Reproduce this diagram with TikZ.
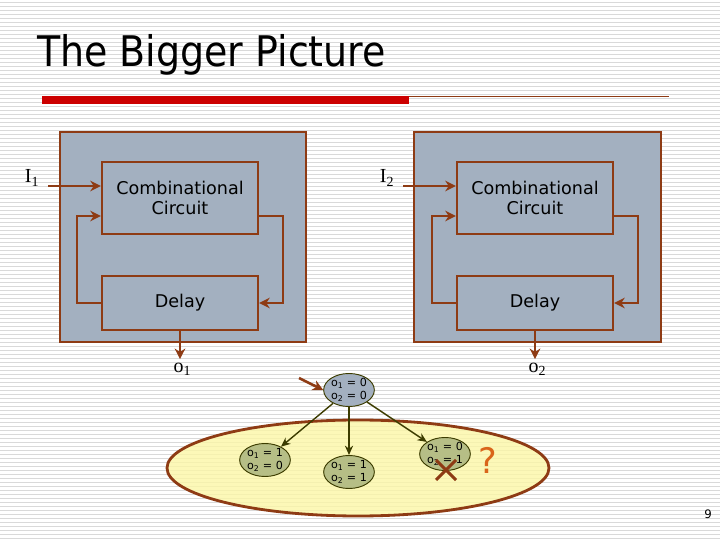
\documentclass[tikz,border=0pt]{standalone}
\usepackage{fontspec}
\setmainfont{DejaVu Sans}
\newfontfamily\titlefont{DejaVu Sans Condensed}
\newfontfamily\seriffont{Liberation Serif}
\usetikzlibrary{shapes.geometric,arrows.meta}

\definecolor{boxfill}{HTML}{A3B0C0}
\definecolor{wirebrown}{HTML}{8E3B14}
\definecolor{titlered}{HTML}{CC0000}
\definecolor{setyellow}{HTML}{FBF6A6}
\definecolor{stateolive}{HTML}{B6BE86}
\definecolor{edgeolive}{HTML}{3C3C00}
\definecolor{qorange}{HTML}{D9651A}

\tikzset{
  wire/.style={draw=wirebrown, line width=2pt, -{Stealth[length=9pt,width=9pt]}},
  block/.style={draw=wirebrown, line width=2pt, fill=boxfill, inner sep=0pt},
  unit/.style={block, minimum width=156*\px, align=center, font=\fontsize{15}{17}\selectfont},
  state/.style={ellipse, draw=edgeolive, line width=0.8pt, fill=stateolive, inner sep=0pt,
    minimum width=50*\px, minimum height=33*\px, align=center, font=\fontsize{9.5}{10.5}\selectfont},
  edge/.style={draw=edgeolive, line width=1.2pt, -{Stealth[length=8pt,width=7pt]}},
  iolabel/.style={font=\seriffont\fontsize{17}{19}\selectfont},
}

\begin{document}
\begin{tikzpicture}[x=0.03cm, y=-0.03cm]
% Parameters
\def\px{0.03cm}
\def\fb{18*\px}

\useasboundingbox (0,0) rectangle (720,540);

% Background stripes
\foreach \y in {2,6,...,538}
  \draw[gray!30, line width=0.8pt] (0,\y) -- (720,\y);

% Title
\node[anchor=base west, font=\titlefont\fontsize{36}{40}\selectfont, inner sep=0pt] (title) at (37,67) {The Bigger Picture};
\fill[titlered] (42,96) rectangle (409,104);
\draw[wirebrown, line width=0.8pt] (409,96) -- (669,96);

% Left machine
\node[block, minimum width=246*\px, minimum height=210*\px] (box1) at (183,237) {};
\node[unit, minimum height=72*\px] (comb1) at (180,198) {Combinational\\Circuit};
\node[unit, minimum height=54*\px] (delay1) at (180,303) {Delay};
\coordinate (in1) at (48,186);
\node[iolabel, anchor=base] (i1) at (32,183) {I\textsubscript{1}};
\draw[wire] (in1) -- (in1 -| comb1.west);
\draw[wire] ([yshift=-\fb]comb1.east) -- ++(24,0) |- (delay1.east);
\draw[wire] (delay1.west) -- ++(-24,0) |- ([yshift=-\fb]comb1.west);
\draw[wire] (delay1.south) -- ++(0,28) node[iolabel, below, inner sep=2pt, xshift=2pt] (o1) {o\textsubscript{1}};

% Right machine
\node[block, minimum width=247*\px, minimum height=210*\px] (box2) at (537.5,237) {};
\node[unit, minimum height=72*\px] (comb2) at (535,198) {Combinational\\Circuit};
\node[unit, minimum height=54*\px] (delay2) at (535,303) {Delay};
\coordinate (in2) at (403,186);
\node[iolabel, anchor=base] (i2) at (387,183) {I\textsubscript{2}};
\draw[wire] (in2) -- (in2 -| comb2.west);
\draw[wire] ([yshift=-\fb]comb2.east) -- ++(24,0) |- (delay2.east);
\draw[wire] (delay2.west) -- ++(-24,0) |- ([yshift=-\fb]comb2.west);
\draw[wire] (delay2.south) -- ++(0,28) node[iolabel, below, inner sep=2pt, xshift=2pt] (o2) {o\textsubscript{2}};

% Reachable states
\node[ellipse, draw=wirebrown, line width=2.4pt, fill=setyellow, fill opacity=0.8,
  minimum width=382*\px, minimum height=96*\px] (reach) at (358,468) {};
\node[state, fill=boxfill] (s00) at (349,390) {o\textsubscript{1} = 0\\o\textsubscript{2} = 0};
\node[state] (s10) at (265,460) {o\textsubscript{1} = 1\\o\textsubscript{2} = 0};
\node[state] (s11) at (349,472) {o\textsubscript{1} = 1\\o\textsubscript{2} = 1};
\node[state] (s01) at (445,454) {o\textsubscript{1} = 0\\o\textsubscript{2} = 1};
\coordinate (start) at (299,378);
\draw[wire, line width=2.2pt] (start) -- (s00.west);
\draw[edge] (s00) -- (s10);
\draw[edge] (s00) -- (s11);
\draw[edge] (s00) -- (s01);

% Forbidden state
\coordinate (cross) at (446,470);
\draw[wirebrown, line width=2.6pt] ([shift={(-10,-10)}]cross) -- ([shift={(10,10)}]cross)
  ([shift={(-10,10)}]cross) -- ([shift={(10,-10)}]cross);
\node[text=qorange, font=\fontsize{30}{32}\selectfont] (query) at (488,460) {?};

% Page number
\node[font=\fontsize{10}{11}\selectfont] (page) at (708,514) {9};
\end{tikzpicture}
\end{document}
